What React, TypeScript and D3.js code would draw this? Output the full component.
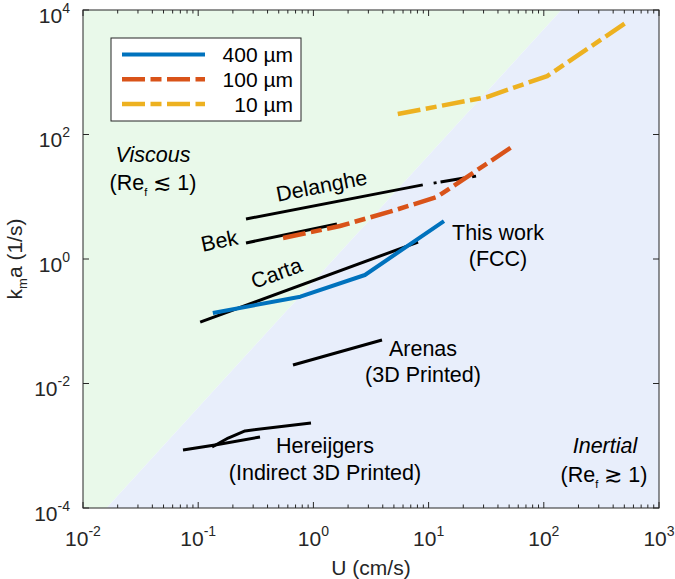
import React from "react";
import * as d3 from "d3";

type P = { u: number; k: number };

const xDomain: [number, number] = [0.01, 1000];
const yDomain: [number, number] = [1e-4, 1e4];
const xMajorExps = [-2, -1, 0, 1, 2, 3];
const yMajorExps = [-4, -2, 0, 2, 4];

const regimeBoundary: P[] = [
  { u: 0.016, k: 1e-4 },
  { u: 142, k: 1e4 },
];

const series400: P[] = [
  { u: 0.134, k: 0.136 },
  { u: 0.77, k: 0.248 },
  { u: 2.8, k: 0.553 },
  { u: 13.6, k: 4.07 },
];
const series100: P[] = [
  { u: 0.545, k: 2.17 },
  { u: 1.7, k: 3.39 },
  { u: 4.62, k: 5.75 },
  { u: 11.8, k: 9.9 },
  { u: 54, k: 65 },
];
const series10: P[] = [
  { u: 5.4, k: 213 },
  { u: 32, k: 400 },
  { u: 107, k: 870 },
  { u: 527, k: 6400 },
];
const carta: P[] = [
  { u: 0.104, k: 0.097 },
  { u: 8.1, k: 1.87 },
];
const bek: P[] = [
  { u: 0.26, k: 1.81 },
  { u: 1.6, k: 3.65 },
];
const delanghe: P[] = [
  { u: 0.26, k: 4.4 },
  { u: 8.9, k: 15.5 },
];
const delangheExtrap: P[] = [
  { u: 8.9, k: 15.5 },
  { u: 26, k: 21.5 },
];
const arenas: P[] = [
  { u: 0.665, k: 0.0198 },
  { u: 3.94, k: 0.05 },
];
const hereijgersA: P[] = [
  { u: 0.0738, k: 8.55e-4 },
  { u: 0.14, k: 1.03e-3 },
  { u: 0.344, k: 1.38e-3 },
];
const hereijgersB: P[] = [
  { u: 0.132, k: 9.55e-4 },
  { u: 0.182, k: 1.33e-3 },
  { u: 0.255, k: 1.73e-3 },
  { u: 0.953, k: 2.32e-3 },
];

const legendLabels = ["400 µm", "100 µm", "10 µm"];
const legendColors = ["#0072BD", "#D95319", "#EDB120"];

const W = 675;
const H = 579;
const M = { left: 83, top: 10, right: 16, bottom: 71 };
const FONT = "'Liberation Sans', Arial, Helvetica, sans-serif";
const AX = "#262626";

export default function App() {
  const x = d3.scaleLog().domain(xDomain).range([M.left, W - M.right]);
  const y = d3.scaleLog().domain(yDomain).range([H - M.bottom, M.top]);
  const x0 = M.left, x1 = W - M.right, y0 = H - M.bottom, y1 = M.top;

  const line = d3
    .line<P>()
    .x((d) => x(d.u))
    .y((d) => y(d.k));

  const b0 = regimeBoundary[0], b1 = regimeBoundary[1];
  const greenPoly = [
    [x0, y1],
    [x(b1.u), y1],
    [x(b0.u), y0],
    [x0, y0],
  ];
  const bluePoly = [
    [x(b1.u), y1],
    [x1, y1],
    [x1, y0],
    [x(b0.u), y0],
  ];
  const poly = (pts: number[][]) => "M" + pts.map((p) => p.join(",")).join("L") + "Z";

  const xMinor: number[] = [];
  for (let e = -2; e < 3; e++) for (let m = 2; m <= 9; m++) xMinor.push(m * Math.pow(10, e));

  const dashDot = "23,5.5,11,5.5";

  return (
    <svg
      width={W}
      height={H}
      style={{ position: "absolute", left: 0, top: 0, background: "#fff" }}
      fontFamily={FONT}
    >
      <defs>
        <clipPath id="plotclip">
          <rect x={x0} y={y1} width={x1 - x0} height={y0 - y1} />
        </clipPath>
      </defs>
      <path d={poly(greenPoly)} fill="#e9f9ea" />
      <path d={poly(bluePoly)} fill="#e8eefb" />

      <g clipPath="url(#plotclip)" fill="none" strokeLinejoin="round">
        <path d={line(carta)!} stroke="#000" strokeWidth={3} />
        <path d={line(bek)!} stroke="#000" strokeWidth={3} />
        <path d={line(delanghe)!} stroke="#000" strokeWidth={3} />
        <path d={line(delangheExtrap)!} stroke="#000" strokeWidth={3} strokeDasharray="0,11,3,4,24,8,4,100" />
        <path d={line(arenas)!} stroke="#000" strokeWidth={3} />
        <path d={line(hereijgersA)!} stroke="#000" strokeWidth={3} />
        <path d={line(hereijgersB)!} stroke="#000" strokeWidth={3} />
        <path d={line(series400)!} stroke={legendColors[0]} strokeWidth={4} />
        <path d={line(series100)!} stroke={legendColors[1]} strokeWidth={4.5} strokeDasharray={dashDot} />
        <path d={line(series10)!} stroke={legendColors[2]} strokeWidth={4.5} strokeDasharray={dashDot} />
      </g>

      {/* axes box */}
      <rect x={x0} y={y1} width={x1 - x0} height={y0 - y1} fill="none" stroke={AX} strokeWidth={1} />
      <g stroke={AX} strokeWidth={1}>
        {xMajorExps.map((e) => {
          const px = x(Math.pow(10, e));
          return (
            <g key={"xm" + e}>
              <line x1={px} x2={px} y1={y0} y2={y0 - 6} />
              <line x1={px} x2={px} y1={y1} y2={y1 + 6} />
            </g>
          );
        })}
        {xMinor.map((v, i) => {
          const px = x(v);
          return (
            <g key={"xn" + i}>
              <line x1={px} x2={px} y1={y0} y2={y0 - 3.5} />
              <line x1={px} x2={px} y1={y1} y2={y1 + 3.5} />
            </g>
          );
        })}
        {yMajorExps.map((e) => {
          const py = y(Math.pow(10, e));
          return (
            <g key={"ym" + e}>
              <line x1={x0} x2={x0 + 6} y1={py} y2={py} />
              <line x1={x1} x2={x1 - 6} y1={py} y2={py} />
            </g>
          );
        })}
      </g>

      {/* tick labels */}
      <g fill={AX} fontSize={21}>
        {xMajorExps.map((e) => (
          <text key={"xl" + e} x={x(Math.pow(10, e))} y={y0 + 38} textAnchor="middle">
            <tspan>10</tspan>
            <tspan dy={-10} fontSize={14}>{e < 0 ? "-" + Math.abs(e) : String(e)}</tspan>
          </text>
        ))}
        {yMajorExps.map((e) => (
          <text key={"yl" + e} x={x0 - 13} y={y(Math.pow(10, e)) + 12.5} textAnchor="end">
            <tspan>10</tspan>
            <tspan dy={-10} fontSize={14}>{e < 0 ? "-" + Math.abs(e) : String(e)}</tspan>
          </text>
        ))}
      </g>

      {/* axis labels */}
      <text x={(x0 + x1) / 2} y={575} textAnchor="middle" fontSize={21} fill={AX}>
        U (cm/s)
      </text>
      <text transform={`translate(22,${(y0 + y1) / 2}) rotate(-90)`} textAnchor="middle" fontSize={21} fill={AX}>
        <tspan>k</tspan>
        <tspan dy={5} fontSize={13}>m</tspan>
        <tspan dy={-5}>a (1/s)</tspan>
      </text>

      {/* annotations */}
      <g fontSize={21.5} fill="#000">
        <text transform="translate(323,193) rotate(-11)" textAnchor="middle">Delanghe</text>
        <text transform="translate(221,248) rotate(-12)" textAnchor="middle">Bek</text>
        <text transform="translate(279,280) rotate(-20)" textAnchor="middle">Carta</text>
        <text x={498} y={240} textAnchor="middle">This work</text>
        <text x={498} y={266} textAnchor="middle">(FCC)</text>
        <text x={423} y={356} textAnchor="middle">Arenas</text>
        <text x={423} y={382} textAnchor="middle">(3D Printed)</text>
        <text x={325} y={453} textAnchor="middle">Hereijgers</text>
        <text x={325} y={480} textAnchor="middle">(Indirect 3D Printed)</text>
        <text x={153} y={162} textAnchor="middle" fontStyle="italic">Viscous</text>
        <text x={153} y={190} textAnchor="middle">
          <tspan>(Re</tspan>
          <tspan dy={6} fontSize={11}>f</tspan>
          <tspan dy={-6}> ≲ 1)</tspan>
        </text>
        <text x={605} y={453} textAnchor="middle" fontStyle="italic">Inertial</text>
        <text x={604} y={482} textAnchor="middle">
          <tspan>(Re</tspan>
          <tspan dy={6} fontSize={11}>f</tspan>
          <tspan dy={-6}> ≳ 1)</tspan>
        </text>
      </g>

      {/* legend */}
      <g>
        <rect x={111} y={38} width={190} height={83} fill="#fff" stroke={AX} strokeWidth={1} />
        {legendLabels.map((lab, i) => {
          const ly = 54.5 + i * 24.8;
          return (
            <g key={lab}>
              <line
                x1={122}
                x2={205}
                y1={ly}
                y2={ly}
                stroke={legendColors[i]}
                strokeWidth={i === 0 ? 4 : 4.5}
                strokeDasharray={i === 0 ? undefined : dashDot}
              />
              <text x={293} y={ly + 7.5} textAnchor="end" fontSize={21} fill="#000">
                {lab}
              </text>
            </g>
          );
        })}
      </g>
    </svg>
  );
}
